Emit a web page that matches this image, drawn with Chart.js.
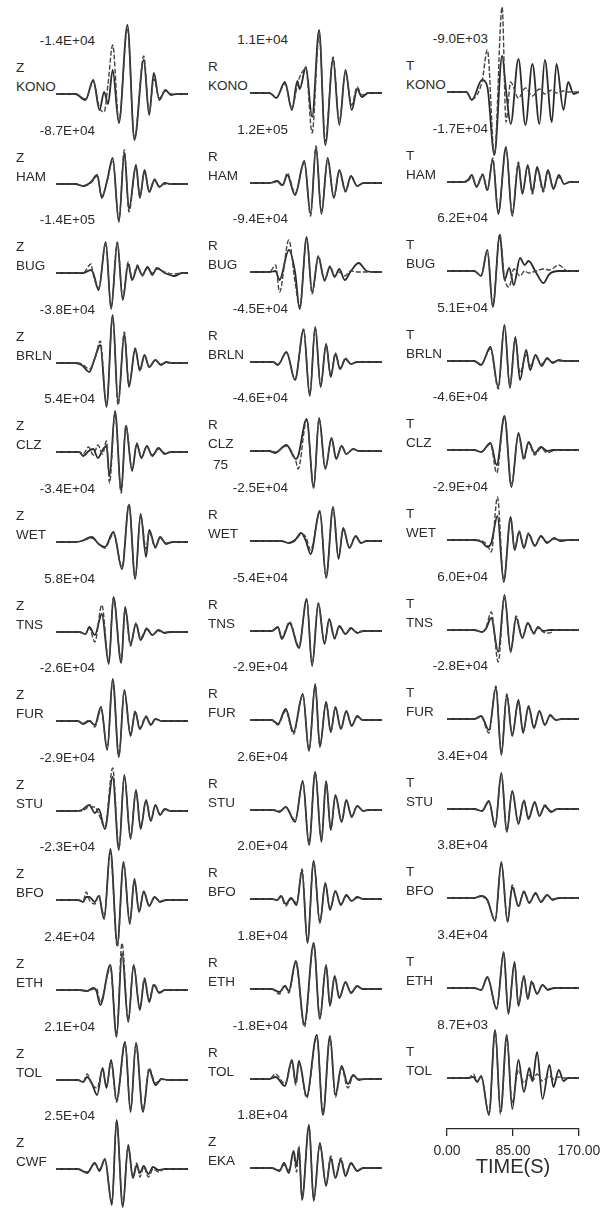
<!DOCTYPE html>
<html>
<head>
<meta charset="utf-8">
<script src="https://cdn.jsdelivr.net/npm/chart.js@4.4.1/dist/chart.umd.min.js"></script>
<style>
  html, body { margin: 0; padding: 0; background: #fff; }
  #fig { position: relative; width: 611px; height: 1211px; overflow: hidden;
         font-family: 'Liberation Sans', Arial, sans-serif; color: #2b2b2b; }
  .lbl { position: absolute; font-size: 13.5px; line-height: 1; white-space: nowrap; transform: translateY(-50%); }
  .amp { transform: translate(-100%, -50%); }
  canvas { position: absolute; }
</style>
</head>
<body>
<div id="fig"></div>
<script>
// time window of every trace, seconds
const timeTicks = [0, 85, 170];
const timeTickLabels = ['0.00', '85.00', '170.00'];

const stationsZ = ['KONO', 'HAM', 'BUG', 'BRLN', 'CLZ', 'WET', 'TNS', 'FUR', 'STU', 'BFO', 'ETH', 'TOL', 'CWF'];
const stationsR = ['KONO', 'HAM', 'BUG', 'BRLN', 'CLZ', 'WET', 'TNS', 'FUR', 'STU', 'BFO', 'ETH', 'TOL', 'EKA'];
const componentsR = ['R', 'R', 'R', 'R', 'R', 'R', 'R', 'R', 'R', 'R', 'R', 'R', 'Z'];
const stationsT = ['KONO', 'HAM', 'BUG', 'BRLN', 'CLZ', 'WET', 'TNS', 'FUR', 'STU', 'BFO', 'ETH', 'TOL'];

// peak amplitude printed above each trace
const ampZ = ['-1.4E+04', '-8.7E+04', '-1.4E+05', '-3.8E+04', '5.4E+04', '-3.4E+04', '5.8E+04',
              '-2.6E+04', '-2.9E+04', '-2.3E+04', '2.4E+04', '2.1E+04', '2.5E+04'];
const ampR = ['1.1E+04', '1.2E+05', '-9.4E+04', '-4.5E+04', '-4.6E+04', '-2.5E+04', '-5.4E+04',
              '-2.9E+04', '2.6E+04', '2.0E+04', '1.8E+04', '-1.8E+04', '1.8E+04'];
const ampT = ['-9.0E+03', '-1.7E+04', '6.2E+04', '5.1E+04', '-4.6E+04', '-2.9E+04', '6.0E+04',
              '-2.8E+04', '3.4E+04', '3.8E+04', '3.4E+04', '8.7E+03'];

const Z_KONO = [[0,0,0],[25,0,0],[38,-6,-5],[48,14,12],[56,-16,-14],[62,2,-18],[67,-10,10],[73,24,49],[81,-29,-27],[92,69,66],[101,-46,-44],[113,34,38],[120,-21,-18],[126,21,15],[133,-6,-4],[141,4,3],[148,-1,0],[155,0,0],[170,0,0]];
const Z_HAM = [[0,0,0],[25,0,0],[35,-2,-2],[45,2,1],[53,9,8],[59,-14,-12],[66,4,3],[73,26,24],[81,-38,-36],[88,31,34],[94,-25,-28],[103,19,17],[108,-14,-12],[114,14,12],[120,-8,-7],[127,4,5],[133,-3,-2],[140,1,0],[148,0,0],[170,0,0]];
const Z_BUG = [[0,0,0],[35,0,0],[45,3,9],[48,0,-2],[55,-17,-15],[64,31,30],[71,-36,-34],[79,30,31],[86,-27,-25],[93,9,11],[98,-7,-6],[105,6,8],[111,-2,-3],[118,6,5],[124,-2,0],[130,5,4],[140,0,1],[153,-3,-1],[162,0,0],[170,0,0]];
const Z_BRLN = [[0,0,0],[25,0,0],[33,-2,-1],[43,-9,-6],[50,5,4],[57,18,22],[65,-44,-42],[73,48,46],[80,-40,-42],[88,29,31],[94,-24,-22],[102,14,15],[108,-7,-8],[114,8,7],[120,-4,-4],[128,3,3],[135,-2,-1],[142,1,0],[150,0,0],[170,0,0]];
const Z_CLZ = [[0,0,0],[30,0,0],[35,-4,-2],[42,1,5],[48,3,-3],[54,-6,7],[60,2,-2],[65,6,11],[69,-24,-31],[76,41,39],[84,-39,-41],[90,26,27],[98,-19,-17],[104,8,9],[110,-6,-5],[117,6,5],[124,-4,-3],[132,4,3],[140,-2,-1],[148,0,0],[170,0,0]];
const Z_WET = [[0,0,0],[25,0,0],[33,1,1],[46,5,4],[55,-2,-2],[63,-5,-6],[74,10,8],[85,-27,-25],[94,37,38],[102,-37,-36],[109,28,26],[116,-15,-7],[120,12,10],[128,-5,-6],[134,5,4],[142,-2,-1],[150,0,0],[170,0,0]];
const Z_TNS = [[0,0,0],[30,0,0],[38,-2,-2],[43,5,4],[50,-3,-10],[59,18,27],[68,-32,-30],[74,35,34],[84,-31,-29],[89,25,23],[96,-12,-14],[103,8,9],[109,-8,-6],[117,3,4],[124,-3,-3],[132,2,1],[140,-1,0],[148,0,0],[170,0,0]];
const Z_FUR = [[0,0,0],[28,0,0],[35,-3,-2],[43,0,1],[50,-4,-6],[58,14,12],[66,-29,-27],[73,42,40],[81,-36,-34],[88,31,30],[96,-15,-13],[102,9,10],[108,-8,-7],[116,4,5],[122,-4,-3],[128,2,2],[136,0,0],[170,0,0]];
const Z_STU = [[0,0,0],[25,0,0],[33,1,0],[43,6,4],[50,-2,4],[55,2,-3],[63,-18,-16],[73,34,43],[81,-39,-37],[88,36,34],[96,-28,-26],[103,21,20],[109,-18,-16],[116,11,10],[122,-10,-9],[128,6,5],[134,-4,-3],[140,2,1],[148,0,0],[170,0,0]];
const Z_BFO = [[0,0,0],[28,0,0],[35,-2,-1],[39,3,8],[43,3,0],[50,-2,-4],[55,4,5],[62,-19,-16],[70,51,48],[79,-44,-47],[87,38,36],[95,-24,-22],[101,21,19],[107,-12,-11],[113,8,9],[120,-6,-5],[127,3,3],[134,-2,-1],[142,0,0],[170,0,0]];
const Z_ETH = [[0,0,0],[30,0,0],[40,-1,-1],[48,2,1],[52,-1,2],[57,-15,-12],[70,25,22],[78,-47,-45],[85,37,47],[93,-32,-30],[100,25,24],[108,-20,-18],[114,11,12],[120,-12,-10],[126,5,6],[133,-3,-2],[140,0,0],[170,0,0]];
const Z_TOL = [[0,0,0],[28,0,0],[35,-2,-2],[40,3,6],[46,-3,-4],[53,-15,-8],[60,12,10],[65,-8,-6],[71,20,18],[78,-20,-22],[89,38,36],[96,-32,-30],[103,37,35],[112,-32,-30],[120,10,12],[128,-5,-3],[136,1,1],[144,0,0],[170,0,0]];
const Z_CWF = [[0,0,0],[28,0,0],[40,-4,-3],[50,6,5],[56,-2,0],[63,10,9],[72,-36,-34],[78,49,47],[86,-38,-36],[93,24,22],[99,-9,-8],[104,4,6],[108,-4,-8],[113,3,2],[119,-5,-8],[125,2,0],[132,-1,-3],[140,0,0],[170,0,0]];

const R_KONO = [[0,0,0],[25,0,0],[34,-5,-4],[45,11,9],[54,-17,-15],[61,12,8],[64,4,16],[72,26,24],[80,-24,-40],[89,63,58],[97,-52,-48],[107,34,36],[115,-32,-28],[123,23,20],[131,-17,-12],[138,4,6],[144,-4,-2],[152,0,0],[170,0,0]];
const R_HAM = [[0,0,0],[25,0,0],[35,2,1],[42,-2,-3],[48,8,10],[58,-12,-10],[70,22,20],[78,-31,-33],[85,35,37],[92,-31,-29],[100,25,22],[108,-15,-14],[115,13,12],[123,-8,-9],[130,7,6],[138,-3,-3],[146,0,0],[170,0,0]];
const R_BUG = [[0,0,0],[25,0,0],[33,1,7],[38,-8,-20],[50,22,32],[58,0,-10],[64,-37,-35],[73,35,33],[80,-20,-22],[88,15,16],[96,-8,-9],[103,5,6],[109,-5,-4],[115,3,0],[122,-8,-4],[130,1,1],[140,9,0],[150,1,0],[160,0,0],[170,0,0]];
const R_BRLN = [[0,0,0],[30,0,0],[36,-3,-2],[47,10,9],[58,-18,-17],[69,32,33],[77,-34,-32],[84,35,34],[91,-25,-23],[98,18,17],[104,-15,-14],[110,8,9],[116,-7,-6],[123,3,4],[130,-2,-2],[138,0,0],[170,0,0]];
const R_CLZ = [[0,0,0],[25,0,0],[32,-2,-1],[47,6,5],[59,-8,-10],[62,-5,-18],[73,32,31],[82,-37,-36],[89,33,32],[97,-18,-17],[105,13,12],[111,-8,-7],[118,5,5],[124,-3,-3],[133,2,2],[140,0,0],[170,0,0]];
const R_WET = [[0,0,0],[40,0,0],[50,-2,-2],[58,1,0],[66,8,7],[72,0,4],[78,-13,-9],[90,30,29],[98,-37,-35],[107,34,33],[114,-18,-16],[120,13,11],[128,-7,-6],[136,5,4],[143,-2,-2],[150,0,0],[170,0,0]];
const R_TNS = [[0,0,0],[28,0,0],[36,4,3],[41,-8,-6],[51,8,9],[63,-17,-15],[73,32,31],[80,-35,-33],[88,27,28],[96,-13,-12],[102,12,11],[109,-7,-8],[115,5,4],[123,-3,-3],[130,3,2],[138,-2,-1],[146,0,0],[170,0,0]];
const R_FUR = [[0,0,0],[28,0,0],[36,-4,-5],[46,11,9],[56,-12,-14],[68,26,25],[76,-31,-30],[84,36,34],[90,-27,-26],[98,18,17],[104,-12,-12],[110,13,12],[117,-9,-8],[124,9,8],[131,-6,-5],[138,4,3],[145,0,0],[170,0,0]];
const R_STU = [[0,0,0],[30,0,0],[38,-2,-1],[46,3,3],[58,-12,-10],[68,29,27],[76,-35,-33],[84,38,37],[92,-32,-30],[98,29,28],[104,-20,-19],[110,15,14],[118,-12,-11],[124,10,9],[131,-7,-6],[138,4,4],[146,-1,-1],[152,0,0],[170,0,0]];
const R_BFO = [[0,0,0],[28,0,0],[35,-1,-1],[40,3,2],[46,-5,-7],[53,1,0],[60,-6,-4],[67,28,30],[74,-44,-42],[82,38,37],[90,-24,-23],[97,16,15],[103,-11,-10],[110,8,7],[117,-6,-5],[124,4,3],[131,-2,-2],[138,2,1],[146,0,0],[170,0,0]];
const R_ETH = [[0,0,0],[28,0,0],[38,-3,-5],[45,3,4],[50,-2,-4],[59,28,26],[70,-35,-38],[82,46,44],[90,-30,-28],[98,24,23],[103,-17,-15],[109,13,12],[115,-9,-8],[123,7,6],[130,-4,-3],[138,3,2],[145,0,0],[170,0,0]];
const R_TOL = [[0,0,0],[25,0,0],[33,2,5],[45,-7,-5],[54,19,17],[59,-4,-6],[63,18,16],[73,-17,-19],[86,44,42],[94,-36,-34],[103,43,41],[110,-16,-18],[118,13,11],[126,-5,-9],[133,4,3],[140,-1,0],[148,0,0],[170,0,0]];
const Z_EKA = [[0,0,0],[28,0,0],[38,-3,-2],[44,5,3],[50,-5,-2],[56,17,14],[60,2,-4],[63,20,22],[67,-32,-30],[76,43,41],[82,-33,-31],[90,25,23],[98,-18,-16],[104,10,12],[110,-10,-9],[117,8,10],[123,-8,-6],[130,5,4],[138,-3,-2],[146,0,0],[170,0,0]];

const T_KONO = [[0,0,0],[25,0,0],[32,-8,-7],[45,12,10],[52,5,42],[61,-63,-63],[71,36,85],[76,2,-30],[82,-32,10],[92,33,-6],[101,-33,4],[110,28,-4],[119,-32,3],[126,32,-2],[135,-30,2],[141,28,-1],[150,-18,1],[156,10,0],[163,-2,0],[170,0,0]];
const T_HAM = [[0,0,0],[22,0,0],[27,2,1],[32,7,5],[38,-5,-4],[46,7,8],[52,-8,-9],[59,22,24],[66,-32,-30],[76,35,33],[84,-34,-32],[92,18,20],[97,-12,-10],[104,17,15],[110,-10,-12],[116,15,13],[124,-8,-10],[130,12,10],[137,-7,-5],[144,7,5],[151,-2,-2],[158,0,0],[170,0,0]];
const T_BUG = [[0,0,0],[35,0,0],[44,-5,-4],[52,21,20],[59,-36,-35],[68,36,37],[74,-9,-6],[80,3,-16],[86,-14,2],[94,13,-5],[100,6,0],[105,10,-2],[115,-2,0],[124,-12,2],[132,-3,1],[144,0,6],[155,0,0],[170,0,0]];
const T_BRLN = [[0,0,0],[35,0,0],[44,-4,-3],[56,14,12],[66,-26,-28],[74,36,35],[81,-27,-25],[88,24,22],[94,-19,-12],[102,11,6],[107,-9,-5],[114,6,4],[122,-5,-3],[129,3,2],[136,-2,-1],[144,1,0],[152,0,0],[170,0,0]];
const T_CLZ = [[0,0,0],[35,0,0],[44,-2,-2],[56,7,6],[64,-15,-23],[74,34,33],[83,-37,-35],[92,17,15],[99,-8,-10],[105,8,7],[113,-3,-5],[121,3,2],[129,-1,-3],[136,0,-1],[145,0,0],[170,0,0]];
const T_WET = [[0,0,0],[35,0,0],[45,-2,-1],[52,-7,-5],[57,-3,-12],[65,24,43],[73,-42,-40],[82,23,22],[87,-10,-9],[93,8,9],[99,-8,-7],[105,6,7],[113,-6,-5],[121,4,3],[129,-3,-2],[138,2,1],[146,-1,0],[155,0,0],[170,0,0]];
const T_TNS = [[0,0,0],[35,0,0],[45,-2,-2],[50,1,2],[57,12,18],[66,-22,-32],[74,35,33],[82,-22,-20],[89,12,14],[97,-8,-7],[104,7,6],[112,-3,-4],[117,3,2],[124,-1,-2],[132,0,-3],[140,0,0],[170,0,0]];
const T_FUR = [[0,0,0],[35,0,0],[44,3,2],[54,-11,-14],[63,31,33],[70,-36,-34],[77,24,25],[84,-17,-15],[92,19,17],[98,-14,-12],[105,13,11],[112,-9,-8],[119,8,7],[126,-6,-5],[133,4,3],[140,-1,-1],[148,0,0],[170,0,0]];
const T_STU = [[0,0,0],[35,0,0],[45,-2,-2],[54,8,7],[62,-18,-16],[70,36,35],[77,-23,-22],[84,18,17],[92,-15,-13],[99,8,9],[105,-10,-8],[113,7,6],[119,-7,-6],[126,3,4],[134,-3,-2],[142,0,0],[170,0,0]];
const T_BFO = [[0,0,0],[35,0,0],[44,2,2],[52,-2,-3],[62,-23,-22],[70,36,34],[78,-24,-23],[84,11,13],[92,-8,-9],[99,6,7],[106,-5,-4],[114,5,4],[121,-4,-3],[129,3,3],[136,-2,-1],[144,0,0],[170,0,0]];
const T_ETH = [[0,0,0],[35,0,0],[44,-2,-2],[52,11,10],[64,-21,-20],[73,36,35],[79,-26,-25],[87,26,24],[92,-18,-17],[99,12,11],[104,-11,-10],[109,6,7],[116,-6,-5],[123,3,3],[130,-2,-1],[138,0,0],[170,0,0]];
const T_TOL = [[0,0,0],[28,0,0],[34,1,4],[39,-4,-3],[44,2,1],[54,-37,-35],[62,48,46],[69,-34,-36],[77,43,40],[84,-31,-25],[92,18,8],[99,-14,-5],[106,10,3],[110,-3,-3],[116,26,4],[123,-21,-3],[132,13,2],[137,-9,-1],[144,8,1],[150,-3,0],[156,0,0],[170,0,0]];

const tracesZ = [Z_KONO, Z_HAM, Z_BUG, Z_BRLN, Z_CLZ, Z_WET, Z_TNS, Z_FUR, Z_STU, Z_BFO, Z_ETH, Z_TOL, Z_CWF];
const tracesR = [R_KONO, R_HAM, R_BUG, R_BRLN, R_CLZ, R_WET, R_TNS, R_FUR, R_STU, R_BFO, R_ETH, R_TOL, Z_EKA];
const tracesT = [T_KONO, T_HAM, T_BUG, T_BRLN, T_CLZ, T_WET, T_TNS, T_FUR, T_STU, T_BFO, T_ETH, T_TOL];

// layout (page px)
const ROW0 = 94, ROW_STEP = 89.6, HALF_H = 100, TRACE_W = 132;
const COL_X = [56, 250, 447];
const COL_LABEL_X = [16, 208, 406];
const COL_AMP_RIGHT = [95, 288, 488];
const COL_SHIFT = [0, -1, -2];
const INK = '#2b2b2b';
const FONT = "'Liberation Sans', Arial, sans-serif";

const fig = document.getElementById('fig');

function addText(text, x, y, cls) {
    const d = document.createElement('div');
    d.className = 'lbl' + (cls ? ' ' + cls : '');
    d.textContent = text;
    d.style.left = x + 'px';
    d.style.top = y + 'px';
    fig.appendChild(d);
}

function drawTrace(col, row, data) {
    const base = ROW0 + row * ROW_STEP + COL_SHIFT[col];
    const canvas = document.createElement('canvas');
    canvas.width = TRACE_W;
    canvas.height = 2 * HALF_H;
    canvas.style.left = COL_X[col] + 'px';
    canvas.style.top = (base - HALF_H) + 'px';
    fig.appendChild(canvas);

    new Chart(canvas, {
        type: 'line',
        data: {
            datasets: [
                {   // synthetic, dashed
                    data: data.map(p => ({ x: p[0], y: p[2] })),
                    borderColor: '#454545',
                    borderWidth: 1.4,
                    borderDash: [5, 2]
                },
                {   // observed, solid
                    data: data.map(p => ({ x: p[0], y: p[1] })),
                    borderColor: INK,
                    borderWidth: 1.8
                }
            ]
        },
        options: {
            responsive: false,
            animation: false,
            events: [],
            layout: { padding: 0 },
            elements: {
                point: { radius: 0 },
                line: { cubicInterpolationMode: 'monotone', fill: false }
            },
            plugins: { legend: { display: false }, tooltip: { enabled: false } },
            scales: {
                x: { type: 'linear', min: 0, max: 170, display: false },
                y: { type: 'linear', min: -HALF_H, max: HALF_H, display: false }
            }
        }
    });
}

function drawPanel(col, row, comp, station, amp, data) {
    const base = ROW0 + row * ROW_STEP + COL_SHIFT[col];
    addText(amp, COL_AMP_RIGHT[col], base - 53, 'amp');
    addText(comp, COL_LABEL_X[col], base - 26);
    addText(station, COL_LABEL_X[col], base - 7);
    drawTrace(col, row, data);
}

stationsZ.forEach((s, i) => drawPanel(0, i, 'Z', s, ampZ[i], tracesZ[i]));
stationsR.forEach((s, i) => drawPanel(1, i, componentsR[i], s, ampR[i], tracesR[i]));
stationsT.forEach((s, i) => drawPanel(2, i, 'T', s, ampT[i], tracesT[i]));

// distance note under R CLZ
addText('75', 213, ROW0 + 4 * ROW_STEP + COL_SHIFT[1] + 14);

// time scale bar
(function () {
    const PAD = 30;
    const canvas = document.createElement('canvas');
    canvas.width = TRACE_W + 2 * PAD;
    canvas.height = 100;
    canvas.style.left = (COL_X[2] - PAD) + 'px';
    canvas.style.top = '1079px';
    fig.appendChild(canvas);

    new Chart(canvas, {
        type: 'line',
        data: { datasets: [] },
        options: {
            responsive: false,
            animation: false,
            events: [],
            layout: { padding: { left: PAD, right: PAD, top: 0, bottom: 0 } },
            plugins: { legend: { display: false }, tooltip: { enabled: false } },
            scales: {
                x: {
                    type: 'linear',
                    position: 'bottom',
                    min: timeTicks[0],
                    max: timeTicks[timeTicks.length - 1],
                    afterBuildTicks: s => { s.ticks = timeTicks.map(v => ({ value: v })); },
                    ticks: {
                        callback: v => timeTickLabels[timeTicks.indexOf(v)],
                        color: INK,
                        font: { family: FONT, size: 14 },
                        padding: 7,
                        maxRotation: 0,
                        autoSkip: false
                    },
                    grid: { display: true, drawOnChartArea: false, drawTicks: true, tickLength: 7, color: INK, lineWidth: 1.3 },
                    border: { display: true, color: INK, width: 1.3 },
                    title: { display: true, text: 'TIME(S)', color: INK, font: { family: FONT, size: 20 }, padding: { top: -4, bottom: 0 } }
                },
                y: { display: false }
            }
        }
    });
})();
</script>
</body>
</html>
